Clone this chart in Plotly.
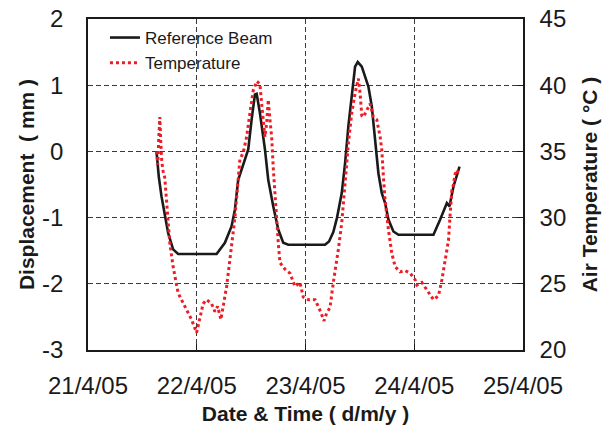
import pandas as pd
import plotly.graph_objects as go

# Hours elapsed since 21/4/05 00:00
beam_hours = [15.12, 15.62, 16.22, 16.95, 17.68, 18.78, 19.89, 28.38, 30.21, 31.69, 32.42,
              33.15, 34.63, 35.36, 36.11, 36.84, 37.22, 37.94, 39.05, 39.78, 40.88, 41.99,
              43.09, 44.20, 52.31, 53.19, 54.14, 54.96, 56.00, 56.73, 57.46, 58.21, 58.94,
              59.53, 60.42, 61.15, 61.88, 62.63, 63.36, 64.09, 64.84, 65.57, 66.30, 67.40,
              68.51, 76.24, 77.72, 79.20, 79.78, 80.66, 81.99]
beam_disp = [0.00, -0.38, -0.68, -0.98, -1.23, -1.48, -1.55, -1.55, -1.38, -1.13, -0.88,
             -0.43, -0.13, 0.03, 0.48, 0.86, 0.87, 0.58, 0.03, -0.43, -0.83, -1.18,
             -1.38, -1.41, -1.41, -1.36, -1.22, -1.00, -0.63, -0.18, 0.38, 0.88, 1.28,
             1.35, 1.28, 1.13, 0.98, 0.68, 0.13, -0.33, -0.63, -0.78, -1.03, -1.21,
             -1.26, -1.26, -1.03, -0.78, -0.83, -0.53, -0.23]

temp_hours = [15.12, 15.40, 15.62, 15.85, 16.07, 16.29, 16.58, 16.95, 17.33, 17.68, 18.05,
              18.78, 19.89, 21.37, 22.85, 23.96, 24.68, 25.41, 26.17, 27.27, 28.00, 28.60,
              29.33, 29.83, 30.59, 31.31, 32.04, 32.42, 32.80, 33.15, 33.52, 34.25, 35.01,
              35.74, 36.46, 37.22, 37.94, 38.32, 39.05, 39.42, 39.78, 40.15, 40.53, 40.88,
              41.26, 41.63, 41.99, 42.36, 43.47, 44.57, 45.68, 46.78, 47.51, 48.62, 50.10,
              51.20, 52.09, 52.68, 53.41, 54.14, 54.90, 55.25, 56.00, 56.73, 57.46, 58.21,
              58.94, 59.67, 60.04, 60.42, 60.77, 61.52, 62.26, 62.98, 63.73, 64.47, 64.84,
              65.19, 65.57, 66.30, 67.05, 67.78, 68.88, 69.99, 71.09, 72.20, 72.57, 73.68,
              75.14, 76.24, 77.35, 78.10, 78.83, 79.56, 79.93, 80.31, 80.66, 81.03, 81.40,
              81.77]
temp_values = [35.0, 34.0, 36.0, 37.6, 35.6, 34.2, 33.5, 33.0, 31.3, 29.8, 28.1,
               26.3, 24.3, 23.3, 22.3, 21.3, 22.5, 23.5, 23.8, 23.5, 22.9, 23.3,
               22.3, 23.2, 24.8, 26.8, 28.8, 30.0, 31.5, 33.3, 34.4, 34.9, 36.1,
               37.9, 39.6, 40.3, 40.1, 38.6, 36.1, 37.1, 38.9, 37.4, 36.1, 33.8,
               31.6, 29.8, 28.1, 26.6, 26.1, 25.8, 24.8, 25.1, 24.0, 23.8, 23.8,
               23.0, 22.2, 22.8, 23.2, 25.1, 26.6, 27.6, 29.6, 32.6, 35.6, 37.9,
               39.4, 40.5, 39.4, 37.7, 37.6, 38.1, 38.6, 37.6, 37.4, 36.1, 35.1,
               33.1, 31.3, 29.1, 27.3, 26.3, 25.9, 26.0, 25.8, 25.3, 24.9, 25.1,
               24.3, 23.8, 24.1, 25.3, 26.8, 28.3, 30.3, 32.1, 32.5, 33.3, 33.6,
               33.2]

start = pd.Timestamp("2005-04-21 00:00")
x_range = ["2005-04-21", "2005-04-25"]
disp_range = [-3, 2]
disp_ticks = [-3, -2, -1, 0, 1, 2]
disp_labels = ["-3", "-2", "-1", "0", "1", "2"]
temp_range = [20, 45]
temp_ticks = [20, 25, 30, 35, 40, 45]
temp_labels = ["20", "25", "30", "35", "40", "45"]

beam_x = start + pd.to_timedelta(beam_hours, unit="h")
temp_x = start + pd.to_timedelta(temp_hours, unit="h")

FONT = "Liberation Sans, Arial, Helvetica, sans-serif"
TICKSIZE = 24
TITLESIZE = 21

fig = go.Figure()
fig.add_trace(go.Scatter(x=beam_x, y=beam_disp, mode="lines", name="Reference Beam",
                         line=dict(color="#1a1a1a", width=2.6), yaxis="y",
                         legendgroup="a"))
fig.add_trace(go.Scatter(x=temp_x, y=temp_values, mode="lines", name="Temperature",
                         line=dict(color="#ee1c25", width=3, dash="dot"), yaxis="y2",
                         legendgroup="b"))

grid = dict(showgrid=True, gridcolor="#3a3a3a", griddash="5px,3px", gridwidth=1)

fig.update_layout(
    width=613, height=430,
    margin=dict(l=88, r=90, t=19, b=80, autoexpand=False),
    paper_bgcolor="white", plot_bgcolor="white",
    font=dict(family=FONT, color="#1a1a1a", size=TICKSIZE),
    showlegend=True,
    legend=dict(x=0.039, y=0.997, xanchor="left", yanchor="top",
                font=dict(size=17, family=FONT), bgcolor="rgba(0,0,0,0)",
                tracegroupgap=0, traceorder="grouped"),
    xaxis=dict(type="date", range=x_range, dtick=86400000, tick0="2005-04-21",
               tickformat="%-d/%-m/%y", showline=True, linecolor="#1a1a1a",
               linewidth=1.5, mirror=True, ticks="inside", ticklen=6,
               tickcolor="#1a1a1a", ticklabelstandoff=13, zeroline=False,
               automargin=False, tickfont=dict(size=TICKSIZE),
               title=dict(text="<b>Date & Time ( d/m/y )</b>", standoff=9,
                          font=dict(size=TITLESIZE)),
               **grid),
    yaxis=dict(range=disp_range, tickvals=disp_ticks, ticktext=disp_labels,
               showline=True, linecolor="#1a1a1a",
               linewidth=1.5, ticks="", ticklabelstandoff=18, zeroline=False,
               automargin=False, tickfont=dict(size=TICKSIZE),
               title=dict(text="<b>Displacement  ( mm )</b>", standoff=2,
                          font=dict(size=TITLESIZE)),
               **grid),
    yaxis2=dict(range=temp_range, tickvals=temp_ticks, ticktext=temp_labels,
                overlaying="y", side="right",
                showline=True, linecolor="#1a1a1a", linewidth=1.5, ticks="inside",
                ticklen=6, tickcolor="#1a1a1a", ticklabelstandoff=10,
                showgrid=False, zeroline=False, automargin=False,
                tickfont=dict(size=TICKSIZE),
                title=dict(text="<b>Air Temperature ( °C )</b>", standoff=17,
                           font=dict(size=TITLESIZE))),
)

fig.write_html("out.html", config={"displayModeBar": False},
               post_script="document.body.style.margin='0';")
